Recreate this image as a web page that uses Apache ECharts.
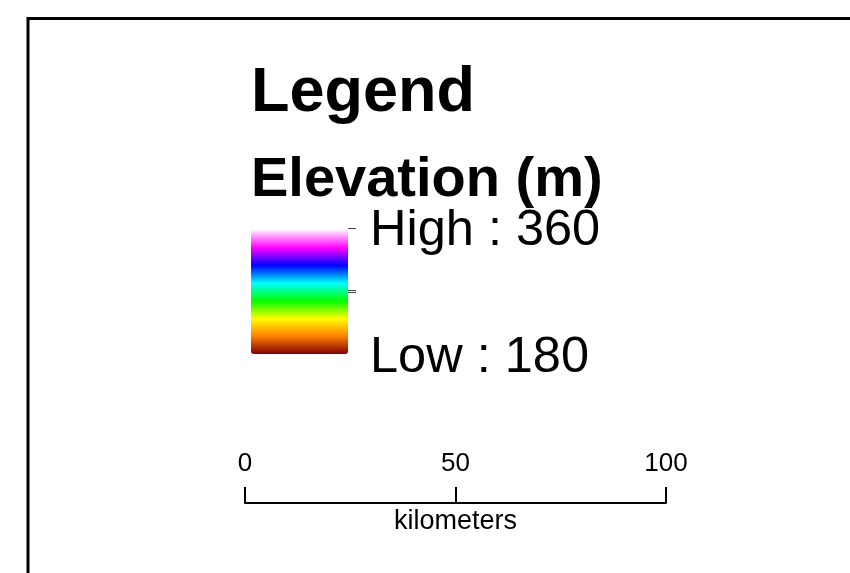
<!DOCTYPE html>
<html>
<head>
<meta charset="utf-8">
<title>Legend</title>
<script src="https://cdn.jsdelivr.net/npm/echarts@6/dist/echarts.min.js"></script>
<style>
  html, body { margin: 0; padding: 0; background: #fff; }
  #chart { width: 850px; height: 573px; }
</style>
</head>
<body>
<div id="chart"></div>
<script>
// elevation ramp (low -> high)
const elevMin = 180
const elevMax = 360
const rampColors = ['#800000', '#ff8000', '#ffff00', '#00ff00', '#00ffff', '#0000ff', '#ff00ff', '#fff2ff']
const highLabel = 'High : ' + elevMax
const lowLabel = 'Low : ' + elevMin

// scale bar
const scaleMin = 0
const scaleMax = 100
const scaleStep = 50
const scaleUnit = 'kilometers'

const font = 'Liberation Sans, Arial, sans-serif'

const chart = echarts.init(document.getElementById('chart'))

chart.setOption({
  backgroundColor: '#fff',
  animation: false,
  title: [
    { text: 'Legend', left: 251, top: 62, padding: 0,
      textStyle: { fontFamily: font, fontSize: 63, fontWeight: 'bold', color: '#000' } },
    { text: 'Elevation (m)', left: 251, top: 153, padding: 0,
      textStyle: { fontFamily: font, fontSize: 56, fontWeight: 'bold', color: '#000' } },
    { text: highLabel, left: 370, top: 206, padding: 0,
      textStyle: { fontFamily: font, fontSize: 50.5, fontWeight: 'normal', color: '#000' } },
    { text: lowLabel, left: 370, top: 333, padding: 0,
      textStyle: { fontFamily: font, fontSize: 50.5, fontWeight: 'normal', color: '#000' } }
  ],
  visualMap: {
    type: 'continuous',
    min: elevMin,
    max: elevMax,
    calculable: false,
    orient: 'vertical',
    left: 251,
    top: 230,
    padding: 0,
    itemWidth: 97,
    itemHeight: 124,
    text: null,
    inRange: { color: rampColors }
  },
  grid: { left: 245, right: 184, top: 503, height: 40 },
  xAxis: {
    type: 'value',
    position: 'top',
    min: scaleMin,
    max: scaleMax,
    interval: scaleStep,
    name: scaleUnit,
    nameLocation: 'middle',
    nameGap: -32,
    nameMoveOverlap: false,
    nameTextStyle: { fontFamily: font, fontSize: 27, color: '#000' },
    axisLine: { show: true, onZero: false, lineStyle: { color: '#000', width: 2 } },
    axisTick: { show: true, length: 16, lineStyle: { color: '#000', width: 2 } },
    axisLabel: { margin: 26, fontFamily: font, fontSize: 26, color: '#000' },
    splitLine: { show: false }
  },
  yAxis: { type: 'value', show: false },
  series: [],
  graphic: [
    // map frame
    { type: 'rect', shape: { x: 28, y: 18.5, width: 900, height: 700 },
      style: { fill: null, stroke: '#000', lineWidth: 3 }, silent: true },
    // little ticks beside the ramp
    { type: 'line', shape: { x1: 348, y1: 228.5, x2: 356, y2: 228.5 }, style: { stroke: '#444', lineWidth: 1 } },
    { type: 'line', shape: { x1: 348, y1: 290.5, x2: 356, y2: 290.5 }, style: { stroke: '#444', lineWidth: 1 } },
    { type: 'line', shape: { x1: 348, y1: 292.5, x2: 356, y2: 292.5 }, style: { stroke: '#444', lineWidth: 1 } }
  ]
})
</script>
</body>
</html>
